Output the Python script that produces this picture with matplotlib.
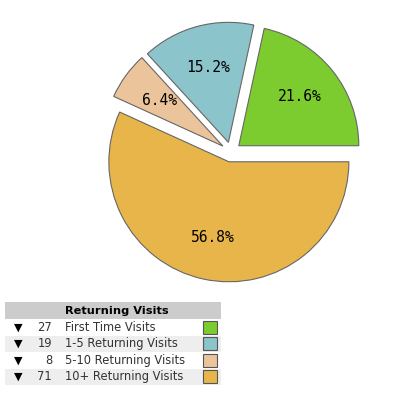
import numpy as np
import matplotlib.pyplot as plt

# data
labels = ["First Time Visits", "1-5 Returning Visits", "5-10 Returning Visits", "10+ Returning Visits"]
counts = [27, 19, 8, 71]
colors = ["#7dcc2f", "#8cc4cc", "#ecc49b", "#e8b54b"]
title = "Returning Visits"

W, H = 400, 397

fig = plt.figure(figsize=(W / 100, H / 100), dpi=100)
ax = fig.add_axes([0, 0, 1, 1])

# pie, pixel coords (y measured from top in the reference)
cx, cy, rad = 231, 152, 120
wedges, texts, autotexts = ax.pie(
    counts, colors=colors, startangle=0, counterclock=True,
    explode=[10] * len(counts), center=(cx, H - cy), radius=rad,
    autopct="%.1f%%", pctdistance=0.65,
    wedgeprops=dict(edgecolor="#666666", linewidth=0.8),
    textprops=dict(family="DejaVu Sans Mono", fontsize=10.5, color="black"))

# legend table
left, right = 5, 221
head_top, row_h = 302, 16.5
ax.add_patch(plt.Rectangle((left, H - head_top - 17), right - left, 17,
                           color="#cccccc", lw=0))
ax.text(117, H - head_top - 8.5, title, ha="center", va="center",
        fontsize=8.2, fontweight="bold", family="DejaVu Sans")
for i, (lab, n, c) in enumerate(zip(labels, counts, colors)):
    top = head_top + 17 + i * row_h
    ymid = H - top - row_h / 2
    if i % 2 == 1:
        ax.add_patch(plt.Rectangle((left, H - top - row_h), right - left, row_h,
                                   color="#eeeeee", lw=0))
    ax.text(18, ymid, "\u25bc", ha="center", va="center", fontsize=8, color="black")
    ax.text(52, ymid, str(n), ha="right", va="center", fontsize=8.3, color="#333333")
    ax.text(65, ymid, lab, ha="left", va="center", fontsize=8.3, color="#333333")
    ax.add_patch(plt.Rectangle((203, ymid - 6.5), 14, 13, facecolor=c,
                               edgecolor="#555555", lw=0.8))

ax.set_xlim(0, W)
ax.set_ylim(0, H)
ax.set_aspect("equal")
ax.axis("off")

fig.savefig("out.png", dpi=100)
